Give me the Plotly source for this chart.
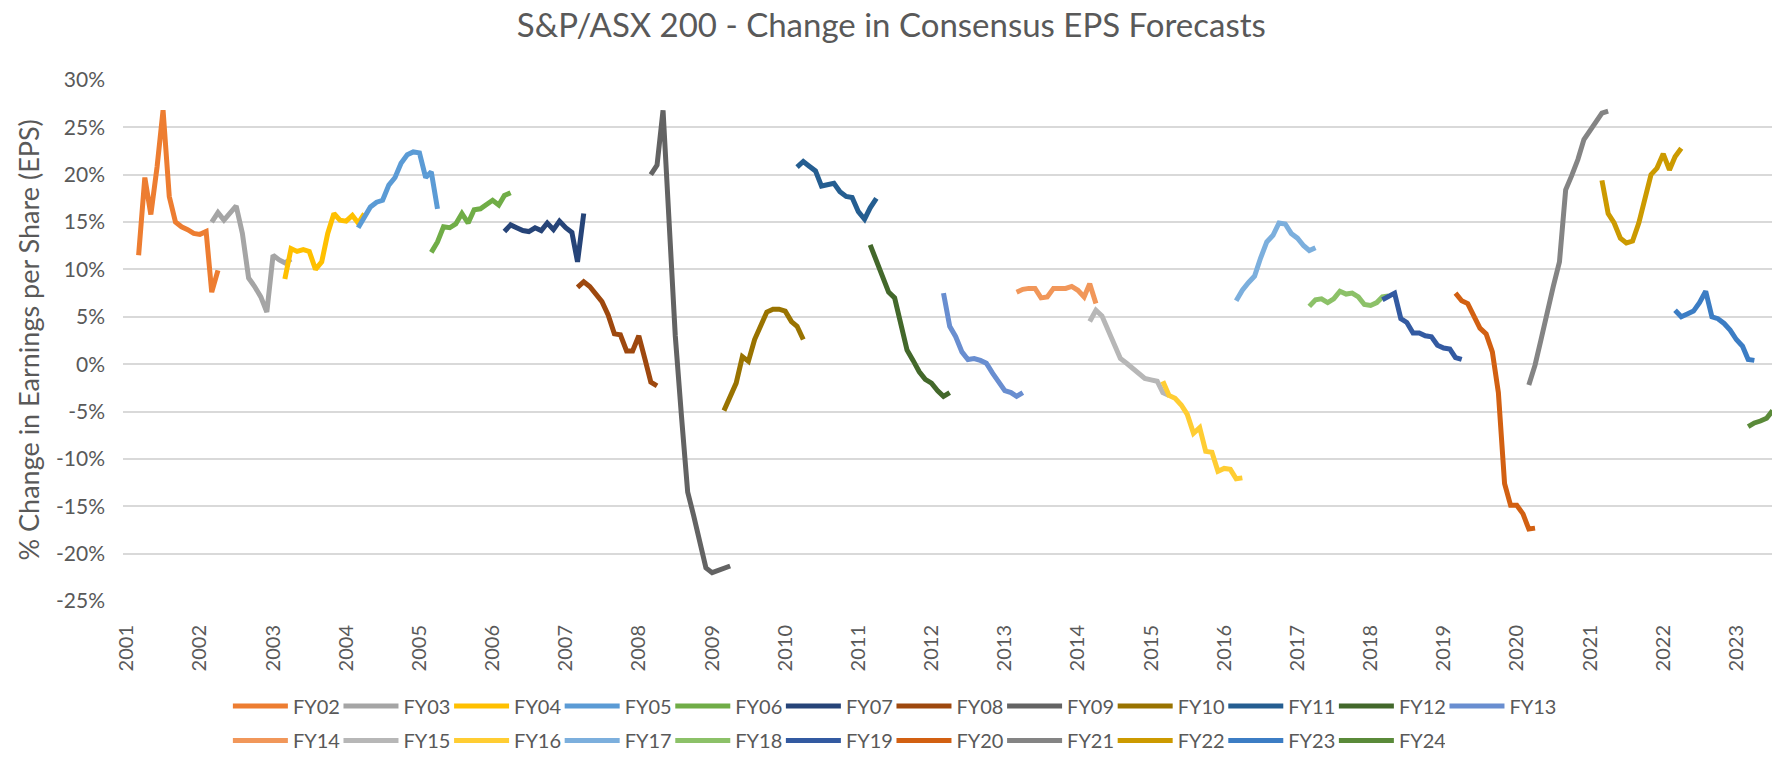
import pandas as pd
import plotly.graph_objects as go

title_text = "S&P/ASX 200 - Change in Consensus EPS Forecasts"
y_title = "% Change in Earnings per Share (EPS)"

series_names = ["FY02", "FY03", "FY04", "FY05", "FY06", "FY07", "FY08", "FY09",
                "FY10", "FY11", "FY12", "FY13", "FY14", "FY15", "FY16", "FY17",
                "FY18", "FY19", "FY20", "FY21", "FY22", "FY23", "FY24"]
# first monthly forecast of each financial year (March of the prior year)
start_months = ["2001-03", "2002-03", "2003-03", "2004-03", "2005-03", "2006-03",
                "2007-03", "2008-03", "2009-03", "2010-03", "2011-03", "2012-03",
                "2013-03", "2014-03", "2015-03", "2016-03", "2017-03", "2018-03",
                "2019-03", "2020-03", "2021-03", "2022-03", "2023-03"]
colors = ["#ED7D31", "#A5A5A5", "#FFC000", "#5B9BD5", "#70AD47", "#264478",
          "#9E480E", "#636363", "#997300", "#255E91", "#43682B", "#698ED0",
          "#F1975A", "#B7B7B7", "#FFCD33", "#7CAFDD", "#8CC168", "#335AA1",
          "#D26012", "#848484", "#CC9A00", "#3C7DC4", "#5A8A39"]

# % change in consensus EPS, monthly
fy02 = [11.5, 19.7, 15.8, 20.8, 26.8, 17.7, 15.0, 14.5, 14.2, 13.8, 13.7, 14.0, 7.6, 9.9]
fy03 = [15.0, 16.0, 15.2, 15.9, 16.7, 13.8, 9.1, 8.2, 7.1, 5.5, 11.5, 11.0, 10.7, 11.1]
fy04 = [9.0, 12.2, 11.9, 12.1, 11.9, 10.0, 10.8, 13.8, 15.9, 15.2, 15.1, 15.7, 14.9, 15.9]
fy05 = [14.4, 15.6, 16.6, 17.1, 17.3, 18.9, 19.7, 21.2, 22.1, 22.4, 22.3, 19.7, 20.3, 16.4]
fy06 = [11.8, 12.9, 14.5, 14.4, 14.8, 15.9, 14.9, 16.3, 16.4, 16.9, 17.3, 16.8, 17.8, 18.1]
fy07 = [14.0, 14.7, 14.4, 14.1, 14.0, 14.4, 14.1, 14.9, 14.2, 15.1, 14.4, 13.9, 10.8, 15.9]
fy08 = [8.1, 8.7, 8.2, 7.3, 6.6, 5.2, 3.2, 3.1, 1.4, 1.4, 3.0, 0.5, -1.9, -2.3]
fy09 = [20.0, 21.0, 26.8, 15.0, 3.0, -5.5, -13.5, -16.0, -19.0, -21.5, -22.0, -21.8, -21.6, -21.3]
fy10 = [-4.9, -3.5, -2.0, 0.8, 0.3, 2.6, 4.2, 5.5, 5.8, 5.8, 5.6, 4.5, 4.0, 2.6]
fy11 = [20.8, 21.4, 20.9, 20.4, 18.8, 18.9, 19.1, 18.2, 17.7, 17.6, 16.1, 15.3, 16.5, 17.5]
fy12 = [12.6, 10.9, 9.3, 7.6, 7.0, 4.3, 1.5, 0.4, -0.8, -1.6, -2.0, -2.8, -3.4, -3.0]
fy13 = [7.5, 4.0, 2.9, 1.3, 0.5, 0.6, 0.4, 0.1, -0.95, -1.8, -2.8, -3.0, -3.4, -3.0]
fy14 = [7.6, 7.9, 8.0, 8.0, 7.0, 7.1, 8.0, 8.0, 8.0, 8.2, 7.8, 7.1, 8.5, 6.4]
fy15 = [4.5, 5.7, 5.1, 3.5, 2.0, 0.6, 0.1, -0.4, -0.9, -1.5, -1.65, -1.8, -3.0, -3.3]
fy16 = [-1.8, -3.3, -3.6, -4.3, -5.3, -7.3, -6.7, -9.2, -9.3, -11.3, -11.0, -11.1, -12.1, -12.0]
fy17 = [6.7, 7.8, 8.6, 9.3, 11.2, 12.9, 13.6, 14.9, 14.8, 13.8, 13.3, 12.5, 12.0, 12.3]
fy18 = [6.1, 6.8, 6.9, 6.5, 6.9, 7.7, 7.4, 7.5, 7.1, 6.3, 6.2, 6.5, 7.1, 7.2]
fy19 = [6.8, 7.1, 7.5, 4.8, 4.4, 3.3, 3.3, 3.0, 2.9, 2.0, 1.7, 1.6, 0.7, 0.5]
fy20 = [7.5, 6.7, 6.4, 5.0, 3.8, 3.2, 1.3, -3.0, -12.6, -14.9, -14.9, -15.8, -17.4, -17.3]
fy21 = [-2.2, -0.1, 2.6, 5.6, 8.2, 10.8, 18.4, 19.9, 21.6, 23.7, 24.7, 25.6, 26.5, 26.7]
fy22 = [19.4, 15.9, 14.9, 13.3, 12.8, 13.0, 14.9, 17.3, 20.0, 20.7, 22.2, 20.5, 21.9, 22.8]
fy23 = [5.7, 5.0, 5.3, 5.6, 6.5, 7.7, 5.0, 4.8, 4.3, 3.6, 2.6, 1.9, 0.5, 0.4]
fy24 = [-6.6, -6.2, -6.0, -5.7, -4.9]

values = [fy02, fy03, fy04, fy05, fy06, fy07, fy08, fy09, fy10, fy11, fy12, fy13,
          fy14, fy15, fy16, fy17, fy18, fy19, fy20, fy21, fy22, fy23, fy24]

y_ticks = list(range(-25, 31, 5))
y_ticktext = [f"{v}%" for v in y_ticks]

fig = go.Figure()
for i, name in enumerate(series_names):
    months = pd.date_range(start_months[i], periods=len(values[i]), freq="MS")
    fig.add_trace(go.Scatter(
        x=months, y=values[i], name=name, mode="lines",
        line=dict(color=colors[i], width=5),
        legend="legend" if i < 12 else "legend2",
    ))

legend_style = dict(
    orientation="h", xref="container", yref="container",
    x=0.1286, xanchor="left",
    itemwidth=55, entrywidth=40.6, entrywidthmode="pixels",
    font=dict(size=20, color="#595959"), bgcolor="rgba(0,0,0,0)",
)

# y axis title placed as a rotated label left of the tick labels
fig.add_annotation(text=y_title, textangle=-90, showarrow=False,
                   xref="paper", x=-95 / 1649, xanchor="center",
                   yref="paper", y=0.5, yanchor="middle",
                   font=dict(size=27, color="#595959"))

fig.update_layout(
    width=1772, height=760,
    font=dict(family="Lato", color="#595959"),
    title=dict(text=title_text, x=0.503, xref="container", y=1 - 25 / 760,
               yref="container", xanchor="center", yanchor="middle",
               font=dict(size=33, color="#595959")),
    paper_bgcolor="white", plot_bgcolor="white",
    margin=dict(l=123, r=0, t=79, b=158, autoexpand=False),
    legend=dict(legend_style, y=1 - 706 / 760, yanchor="middle"),
    legend2=dict(legend_style, y=0, yanchor="bottom"),
    xaxis=dict(type="date", range=["2000-12-13", "2023-06-28"], automargin=False,
               tick0="2001-01-01", dtick="M12", tickformat="%Y",
               tickangle=-90, showgrid=False, zeroline=False, ticks="",
               ticklabelstandoff=18, tickfont=dict(size=20, color="#595959")),
    yaxis=dict(range=[-25.1, 30.1], tickvals=y_ticks, ticktext=y_ticktext,
               automargin=False,
               gridcolor="#D9D9D9", gridwidth=1.5, zeroline=False, ticks="",
               ticklabelstandoff=17, tickfont=dict(size=21, color="#595959")),
)

# drop the page's default body margin so the figure fills the window
fig.write_html("out.html", config={"displayModeBar": False},
               post_script="document.body.style.margin = '0';")
